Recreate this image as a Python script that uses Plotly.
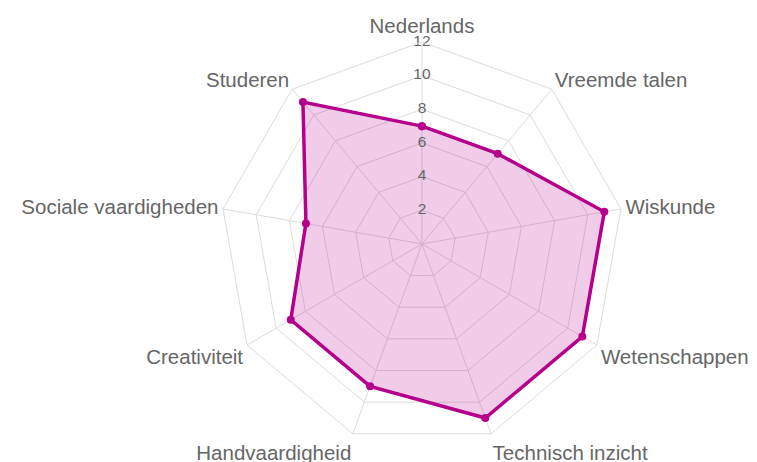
import plotly.graph_objects as go

categories = ["Nederlands", "Vreemde talen", "Wiskunde", "Wetenschappen", "Technisch inzicht",
              "Handvaardigheid", "Creativiteit", "Sociale vaardigheden", "Studeren"]
values = [7, 7, 11, 11, 11, 9, 9, 7, 11]
tick_values = [2, 4, 6, 8, 10, 12]
tick_labels = ["2", "4", "6", "8", "10", "12"]

line_color = "#b5008c"
grid_color = "#dcdcdc"
text_color = "#666666"
font_family = "Liberation Sans, Arial, sans-serif"

fig = go.Figure()
fig.add_trace(go.Scatterpolar(
    r=values + values[:1],
    theta=categories + categories[:1],
    mode="lines+markers",
    fill="toself",
    fillcolor="rgba(181,0,140,0.2)",
    line=dict(color=line_color, width=3.5),
    marker=dict(color=line_color, size=8),
    hoverinfo="skip",
    showlegend=False,
))
fig.add_trace(go.Scatterpolar(
    r=tick_values,
    theta=[categories[0]] * len(tick_values),
    mode="text",
    text=tick_labels,
    textfont=dict(family=font_family, size=15.5, color=text_color),
    textposition="middle center",
    hoverinfo="skip",
    showlegend=False,
))

fig.update_layout(
    width=757, height=462,
    margin=dict(l=0, r=0, t=0, b=0),
    paper_bgcolor="white",
    plot_bgcolor="white",
    font=dict(family=font_family, color=text_color),
    polar=dict(
        domain=dict(x=[0.2800, 0.8137], y=[0.0520, 0.9265]),
        gridshape="linear",
        bgcolor="white",
        radialaxis=dict(
            range=[0, 12],
            tickvals=tick_values,
            showticklabels=False,
            ticks="",
            showline=False,
            gridcolor=grid_color,
            gridwidth=1,
        ),
        angularaxis=dict(
            direction="clockwise",
            rotation=90,
            gridcolor=grid_color,
            linecolor=grid_color,
            linewidth=1,
            ticks="",
            tickfont=dict(size=20.5, color=text_color),
        ),
    ),
)

fig.write_html("out.html")
